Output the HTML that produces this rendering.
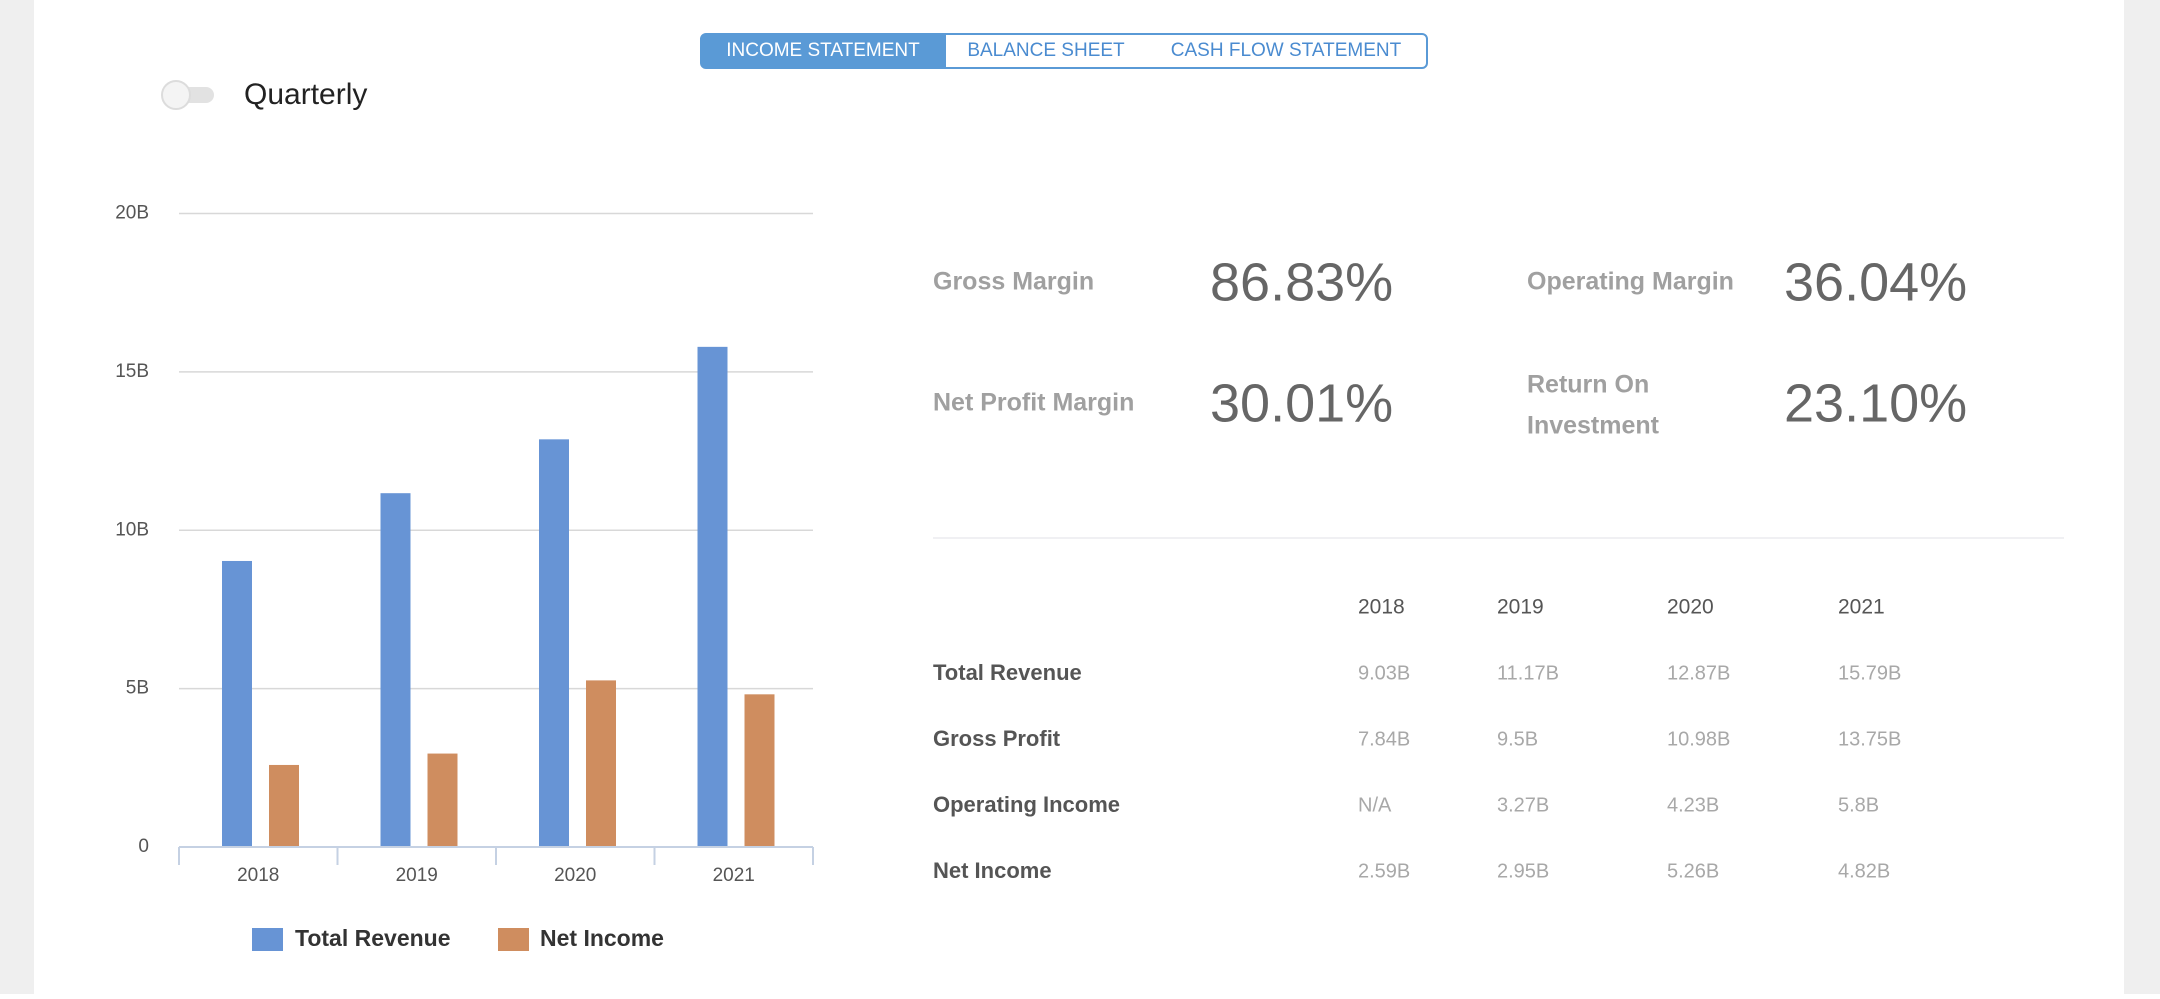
<!DOCTYPE html>
<html><head><meta charset="utf-8"><style>
html,body{margin:0;padding:0;background:#fff;}
body{width:2160px;height:994px;overflow:hidden;font-family:"Liberation Sans",sans-serif;}
svg text{font-family:"Liberation Sans",sans-serif;}
</style></head><body>
<svg id="page" width="2160" height="994" viewBox="0 0 2160 994">
  <rect x="0" y="0" width="34" height="994" fill="#efefef"/>
  <rect x="2124" y="0" width="36" height="994" fill="#efefef"/>

  <g>
    <rect x="701" y="34" width="726" height="34" rx="5" fill="#fff" stroke="#5a9ad6" stroke-width="2"/>
    <path d="M706,34 H946 V68 H706 A5,5 0 0 1 701,63 V39 A5,5 0 0 1 706,34 Z" fill="#5a9ad6"/>
    <text x="823" y="51" text-anchor="middle" dominant-baseline="middle" font-size="19" fill="#fff">INCOME STATEMENT</text>
    <rect x="947" y="35" width="199" height="32" fill="transparent"/>
    <text x="1046" y="51" text-anchor="middle" dominant-baseline="middle" font-size="19" fill="#4a8bd0">BALANCE SHEET</text>
    <rect x="1146" y="35" width="280" height="32" fill="transparent"/>
    <text x="1286" y="51" text-anchor="middle" dominant-baseline="middle" font-size="19" fill="#4a8bd0">CASH FLOW STATEMENT</text>
  </g>

  <g>
    <rect x="162" y="87" width="52" height="16" rx="8" fill="#e2e2e2"/>
    <circle cx="176" cy="95" r="14" fill="#f4f4f4" stroke="#dcdcdc" stroke-width="2"/>
  </g>
  <text x="244" y="96" dominant-baseline="middle" font-size="30" fill="#222">Quarterly</text>

  <g id="chart"></g>

  <g font-weight="bold">
    <text x="933" y="283" dominant-baseline="middle" font-size="25" fill="#a0a0a0">Gross Margin</text>
    <text x="1210" y="286" dominant-baseline="middle" font-size="54" font-weight="normal" fill="#666">86.83%</text>
    <text x="1527" y="283" dominant-baseline="middle" font-size="25" fill="#a0a0a0">Operating Margin</text>
    <text x="1784" y="286" dominant-baseline="middle" font-size="54" font-weight="normal" fill="#666">36.04%</text>
    <text x="933" y="404" dominant-baseline="middle" font-size="25" fill="#a0a0a0">Net Profit Margin</text>
    <text x="1210" y="407" dominant-baseline="middle" font-size="54" font-weight="normal" fill="#666">30.01%</text>
    <text x="1527" y="386" dominant-baseline="middle" font-size="25" fill="#a0a0a0">Return On</text>
    <text x="1527" y="427" dominant-baseline="middle" font-size="25" fill="#a0a0a0">Investment</text>
    <text x="1784" y="407" dominant-baseline="middle" font-size="54" font-weight="normal" fill="#666">23.10%</text>
  </g>
  <line x1="933" y1="538" x2="2064" y2="538" stroke="#f0f0f3" stroke-width="2"/>

  <g>
    <text x="1358" y="608" dominant-baseline="middle" font-size="21" fill="#555">2018</text>
    <text x="1497" y="608" dominant-baseline="middle" font-size="21" fill="#555">2019</text>
    <text x="1667" y="608" dominant-baseline="middle" font-size="21" fill="#555">2020</text>
    <text x="1838" y="608" dominant-baseline="middle" font-size="21" fill="#555">2021</text>
    <g font-size="22" font-weight="bold" fill="#555">
      <text x="933" y="674" dominant-baseline="middle">Total Revenue</text>
      <text x="933" y="740" dominant-baseline="middle">Gross Profit</text>
      <text x="933" y="806" dominant-baseline="middle">Operating Income</text>
      <text x="933" y="872" dominant-baseline="middle">Net Income</text>
    </g>
    <g font-size="20" fill="#a8a8a8">
      <text x="1358" y="674" dominant-baseline="middle">9.03B</text>
      <text x="1497" y="674" dominant-baseline="middle">11.17B</text>
      <text x="1667" y="674" dominant-baseline="middle">12.87B</text>
      <text x="1838" y="674" dominant-baseline="middle">15.79B</text>
      <text x="1358" y="740" dominant-baseline="middle">7.84B</text>
      <text x="1497" y="740" dominant-baseline="middle">9.5B</text>
      <text x="1667" y="740" dominant-baseline="middle">10.98B</text>
      <text x="1838" y="740" dominant-baseline="middle">13.75B</text>
      <text x="1358" y="806" dominant-baseline="middle">N/A</text>
      <text x="1497" y="806" dominant-baseline="middle">3.27B</text>
      <text x="1667" y="806" dominant-baseline="middle">4.23B</text>
      <text x="1838" y="806" dominant-baseline="middle">5.8B</text>
      <text x="1358" y="872" dominant-baseline="middle">2.59B</text>
      <text x="1497" y="872" dominant-baseline="middle">2.95B</text>
      <text x="1667" y="872" dominant-baseline="middle">5.26B</text>
      <text x="1838" y="872" dominant-baseline="middle">4.82B</text>
    </g>
  </g>
</svg>
<script>
const categories = ["2018", "2019", "2020", "2021"];
const revenue = [9.03, 11.17, 12.87, 15.79];
const netIncome = [2.59, 2.95, 5.26, 4.82];
const yTicks = [0, 5, 10, 15, 20];
const yTickLabels = ["0", "5B", "10B", "15B", "20B"];

const NS = "http://www.w3.org/2000/svg";
const g = document.getElementById("chart");
const X0 = 179, X1 = 813, Y0 = 847, Y1 = 213.5, YMAX = 20;
const band = (X1 - X0) / categories.length;
function y(v){ return Y0 - (v / YMAX) * (Y0 - Y1); }
function xBand(i){ return X0 + i * band; }
function mk(tag, attrs){ const e = document.createElementNS(NS, tag); for (const k in attrs) e.setAttribute(k, attrs[k]); g.appendChild(e); return e; }

yTicks.forEach((t, i) => {
  if (t > 0) {
    const l = mk("line", {x1: X0, x2: X1, y1: y(t), y2: y(t), stroke: "#d8d8d8", "stroke-width": 1.5});
    
    
  }
  const tx = mk("text", {x: 149, y: y(t), "text-anchor": "end", "dominant-baseline": "middle", "font-size": 19, fill: "#555"});
  tx.textContent = yTickLabels[i];
  
  
});

categories.forEach((c, i) => {
  const bx = xBand(i);
  const b1 = mk("rect", {x: bx + 43, y: y(revenue[i]), width: 30, height: Y0 - y(revenue[i]), fill: "#6794d5"});
  
  
  const b2 = mk("rect", {x: bx + 90, y: y(netIncome[i]), width: 30, height: Y0 - y(netIncome[i]), fill: "#cf8d5f"});
  
  
  const lb = mk("text", {x: bx + band / 2, y: 876, "text-anchor": "middle", "dominant-baseline": "middle", "font-size": 19, fill: "#555"});
  lb.textContent = c;
  
  
});
for (let i = 0; i <= categories.length; i++) {
  const tk = mk("line", {x1: xBand(i), x2: xBand(i), y1: Y0, y2: Y0 + 18, stroke: "#c5d1e3", "stroke-width": 2});
  
  
}
const ax = mk("line", {x1: X0, x2: X1, y1: Y0, y2: Y0, stroke: "#c5d1e3", "stroke-width": 2});



const lg1 = mk("rect", {x: 252, y: 928, width: 31, height: 23, fill: "#6794d5"});


const lt1 = mk("text", {x: 295, y: 940, "dominant-baseline": "middle", "font-size": 23, "font-weight": "bold", fill: "#333"});
lt1.textContent = "Total Revenue";


const lg2 = mk("rect", {x: 498, y: 928, width: 31, height: 23, fill: "#cf8d5f"});


const lt2 = mk("text", {x: 540, y: 940, "dominant-baseline": "middle", "font-size": 23, "font-weight": "bold", fill: "#333"});
lt2.textContent = "Net Income";


</script>
</body></html>
